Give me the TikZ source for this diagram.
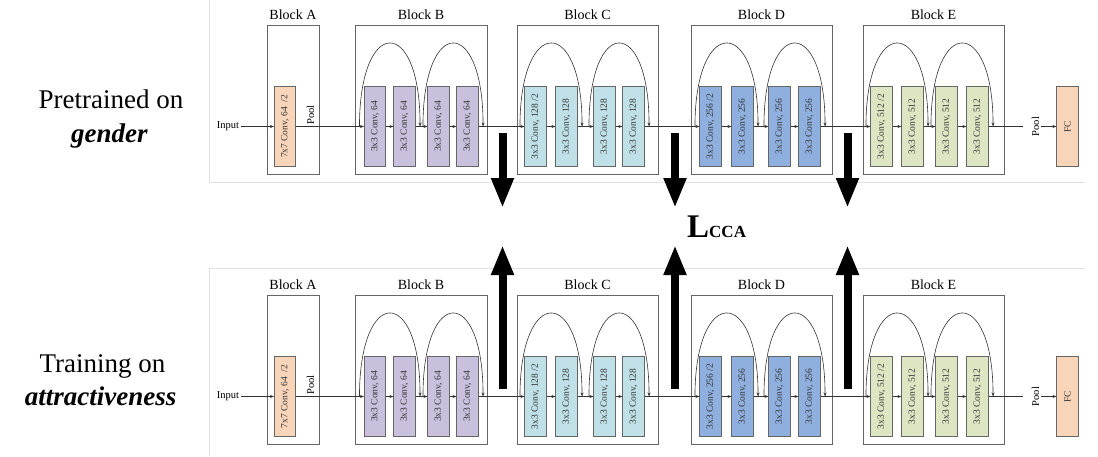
\documentclass[tikz,border=0pt]{standalone}
\usepackage{fontspec}
\setmainfont{Liberation Serif}
\usetikzlibrary{arrows.meta}
\definecolor{peach}{HTML}{F8D4B8}
\definecolor{lavender}{HTML}{C9C0DD}
\definecolor{paleblue}{HTML}{BFE0E6}
\definecolor{midblue}{HTML}{8FB0DF}
\definecolor{palegreen}{HTML}{DCE6C3}
\definecolor{framegray}{HTML}{E2E2E2}
\begin{document}
\begin{tikzpicture}[x=1pt,y=-1pt,
    blockbox/.style={draw=black!60,line width=0.8pt,minimum width=#1,minimum height=149pt,inner sep=0pt},
    convbox/.style={draw=black!60,line width=0.6pt,fill=#1,minimum width=21.5pt,minimum height=80pt,inner sep=0pt,
      font=\fontsize{9.5}{10}\selectfont,text=black!80},
    title/.style={anchor=base,inner sep=0pt,font=\fontsize{14}{16}\selectfont},
    smalltxt/.style={inner sep=2pt,font=\fontsize{10.5}{12}\selectfont},
    bigtxt/.style={anchor=base,inner sep=0pt,font=\fontsize{27}{32}\selectfont},
    line/.style={draw=black!80,line width=0.6pt},
    flow/.style={line,-{Stealth[length=4pt,width=3pt]}},
    bigarrow/.style={line width=8pt,-{Triangle[width=21pt,length=30pt]}},
  ]
  \useasboundingbox (0,0) rectangle (1098,456);
  % screenshot frames
  \draw[framegray,line width=1pt] (209,0) -- (209,182) -- (1085,182);
  \draw[framegray,line width=1pt] (209,456) -- (209,268) -- (1085,268);

  % left labels
  \node[bigtxt] (pre1) at (111,108) {Pretrained on};
  \node[bigtxt] (pre2) at (109.5,142) {\textbf{\textit{gender}}};
  \node[bigtxt] (trn1) at (102.5,372) {Training on};
  \node[bigtxt] (trn2) at (100.5,405) {\textbf{\textit{attractiveness}}};

  \foreach \r/\dy in {t/0,b/270} {
    \node[smalltxt] (\r-in) at (228,126.5+\dy) {Input};
    % block A
    \node[blockbox=52] (\r-A) at (293,99.5+\dy) {};
    \node[title] (\r-A-t) at ([yshift=5pt]\r-A.north) {Block A};
    \node[convbox=peach] (\r-A1) at (285,126.5+\dy) {\rotatebox{90}{7x7 Conv, 64~ /2}};
    \node[smalltxt,rotate=90] (\r-pool1) at (310.5,115+\dy) {Pool};
    % residual blocks
    \foreach \blk/\sfx/\bx/\bw/\col/\ch/\ca/\cb/\cc/\cd in {
        B/{}/421/132/lavender/64/375/404.5/438.5/467.5,
        C/{\ /2}/587.5/141/paleblue/128/535.5/566.5/604.5/633.5,
        D/{\ /2}/761.5/141/midblue/256/710.5/742.5/779.5/809.5,
        E/{\ /2}/933.5/141/palegreen/512/881.5/912.5/946.5/977.5} {
      \node[blockbox=\bw] (\r-\blk) at (\bx,99.5+\dy) {};
      \node[title] (\r-\blk-t) at ([yshift=5pt]\r-\blk.north) {Block \blk};
      \foreach \i/\cx in {1/\ca,2/\cb,3/\cc,4/\cd}
        \node[convbox=\col] (\r-\blk\i) at (\cx,126.5+\dy)
          {\rotatebox{90}{3x3 Conv, \ch\ifnum\i=1 \sfx\fi}};
      \draw[flow] (\r-\blk1.east) -- (\r-\blk2.west);
      \draw[flow] (\r-\blk2.east) -- (\r-\blk3.west);
      \draw[flow] (\r-\blk3.east) -- (\r-\blk4.west);
      % skip connections
      \draw[flow] ([xshift=-4.5pt]\r-\blk1.west) .. controls +(0,-111) and +(0,-111) .. ([xshift=4.5pt]\r-\blk2.east);
      \draw[flow] ([xshift=-4.5pt]\r-\blk3.west) .. controls +(0,-111) and +(0,-111) .. ([xshift=4.5pt]\r-\blk4.east);
    }
    \draw[flow] (\r-in.east) -- (\r-A1.west);
    \foreach \p/\n in {A1/B1,B4/C1,C4/D1,D4/E1}
      \draw[flow] (\r-\p.east) -- (\r-\n.west);
    \coordinate (\r-end) at (1023,126.5+\dy);
    \draw[line] (\r-E4.east) -- (\r-end);
    \node[smalltxt,rotate=90] (\r-pool2) at (1035.5,126.5+\dy) {Pool};
    \node[convbox=peach] (\r-fc) at (1067.5,126.5+\dy) {\rotatebox{90}{FC}};
    \draw[flow] (\r-pool2) -- (\r-fc.west);
  }

  % CCA loss arrows
  \foreach \i/\x in {1/502.5,2/675,3/847.5} {
    \coordinate (dn\i-s) at (\x,133);
    \coordinate (dn\i-e) at (\x,208);
    \coordinate (up\i-s) at (\x,389);
    \coordinate (up\i-e) at (\x,245);
    \draw[bigarrow] (dn\i-s) -- (dn\i-e);
    \draw[bigarrow] (up\i-s) -- (up\i-e);
  }
  \node[anchor=base west,inner sep=0pt] (lcca) at (687,237)
    {\bfseries\fontsize{33}{33}\selectfont L\fontsize{17}{17}\selectfont CCA};
\end{tikzpicture}
\end{document}
